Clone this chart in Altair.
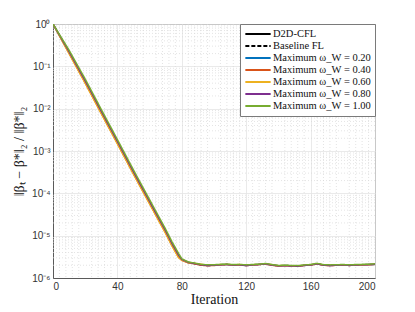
import altair as alt
import pandas as pd

iterations = [0, 10, 20, 30, 40, 50, 60, 70, 74, 78, 80] + list(range(84, 201, 4))

series_names = ["D2D-CFL", "Baseline FL",
                "Maximum ω_W = 0.20", "Maximum ω_W = 0.40", "Maximum ω_W = 0.60",
                "Maximum ω_W = 0.80", "Maximum ω_W = 1.00"]
series_colors = ["#000000", "#000000", "#0072BD", "#D95319", "#EDB120", "#7E2F8E", "#77AC30"]

decay_020 = [1.0, 0.215, 0.0436, 8.32e-3, 1.62e-3, 3.09e-4, 6.16e-5, 1.23e-5, 6.16e-6, 3.31e-6, 2.70e-6]
decay_040 = [1.0, 0.204, 0.0407, 7.76e-3, 1.51e-3, 2.88e-4, 5.75e-5, 1.15e-5, 5.75e-6, 3.09e-6, 2.62e-6]
decay_060 = [1.0, 0.1995, 0.0398, 7.59e-3, 1.48e-3, 2.82e-4, 5.62e-5, 1.12e-5, 5.62e-6, 3.02e-6, 2.63e-6]
decay_080 = [1.0, 0.222, 0.0457, 8.71e-3, 1.70e-3, 3.24e-4, 6.45e-5, 1.29e-5, 6.45e-6, 3.47e-6, 2.75e-6]
decay_100 = [1.0, 0.240, 0.0501, 9.55e-3, 1.86e-3, 3.55e-4, 7.08e-5, 1.41e-5, 7.08e-6, 3.80e-6, 2.85e-6]

floor_020 = [2.32e-6, 2.18e-6, 2.05e-6, 1.98e-6, 2.00e-6, 2.06e-6, 2.10e-6, 2.00e-6, 2.06e-6, 1.98e-6,
             2.05e-6, 2.10e-6, 2.16e-6, 2.03e-6, 1.94e-6, 1.97e-6, 1.95e-6, 1.92e-6, 2.00e-6, 2.04e-6,
             2.16e-6, 2.02e-6, 1.98e-6, 2.02e-6, 2.04e-6, 2.00e-6, 2.04e-6, 2.06e-6, 2.08e-6, 2.10e-6]
floor_040 = [2.28e-6, 2.15e-6, 2.00e-6, 1.95e-6, 1.98e-6, 2.04e-6, 2.08e-6, 2.02e-6, 2.04e-6, 1.97e-6,
             2.03e-6, 2.08e-6, 2.14e-6, 2.00e-6, 1.92e-6, 1.95e-6, 1.93e-6, 1.90e-6, 1.98e-6, 2.02e-6,
             2.15e-6, 2.00e-6, 1.96e-6, 2.00e-6, 2.02e-6, 1.98e-6, 2.02e-6, 2.04e-6, 2.06e-6, 2.10e-6]
floor_060 = [2.30e-6, 2.22e-6, 2.12e-6, 2.00e-6, 2.02e-6, 2.08e-6, 2.10e-6, 2.05e-6, 2.08e-6, 2.00e-6,
             2.06e-6, 2.10e-6, 2.16e-6, 2.05e-6, 1.95e-6, 1.98e-6, 1.94e-6, 1.92e-6, 2.00e-6, 2.05e-6,
             2.18e-6, 2.04e-6, 2.00e-6, 2.02e-6, 2.05e-6, 2.00e-6, 2.05e-6, 2.06e-6, 2.08e-6, 2.12e-6]
floor_080 = [2.34e-6, 2.20e-6, 2.05e-6, 1.97e-6, 2.00e-6, 2.05e-6, 2.08e-6, 2.03e-6, 2.05e-6, 1.96e-6,
             2.04e-6, 2.08e-6, 2.15e-6, 2.02e-6, 1.93e-6, 1.96e-6, 1.92e-6, 1.90e-6, 1.98e-6, 2.03e-6,
             2.16e-6, 2.01e-6, 1.97e-6, 2.00e-6, 2.03e-6, 1.98e-6, 2.03e-6, 2.05e-6, 2.07e-6, 2.11e-6]
floor_100 = [2.40e-6, 2.25e-6, 2.10e-6, 2.05e-6, 2.06e-6, 2.10e-6, 2.13e-6, 2.08e-6, 2.10e-6, 2.04e-6,
             2.09e-6, 2.12e-6, 2.20e-6, 2.08e-6, 1.98e-6, 2.01e-6, 1.98e-6, 1.96e-6, 2.03e-6, 2.08e-6,
             2.22e-6, 2.07e-6, 2.04e-6, 2.06e-6, 2.08e-6, 2.05e-6, 2.08e-6, 2.10e-6, 2.12e-6, 2.16e-6]

y_major = [1e-6, 1e-5, 1e-4, 1e-3, 1e-2, 1e-1, 1]
y_minor = [k * 10.0 ** e for e in range(-6, 0) for k in range(2, 10)]
x_major = [0, 20, 40, 60, 80, 100, 120, 140, 160, 180, 200]
x_minor = [v for v in range(4, 200, 4) if v % 20 != 0]

series_values = [decay_020 + floor_020, decay_040 + floor_040, decay_060 + floor_060,
                 decay_080 + floor_080, decay_100 + floor_100]

rows = []
for name, vals in zip(series_names[2:], series_values):
    for it, v in zip(iterations, vals):
        rows.append({"Iteration": it, "err": v, "series": name})
df = pd.DataFrame(rows)

xscale = alt.Scale(domain=[0, 200], nice=False)
yscale = alt.Scale(type="log", domain=[1e-6, 1], nice=False)

minor_y = alt.Chart(pd.DataFrame({"v": y_minor})).mark_rule(
    color="#d8d8d8", strokeWidth=0.7, strokeDash=[1, 2]
).encode(y=alt.Y("v:Q", scale=yscale))

minor_x = alt.Chart(pd.DataFrame({"v": x_minor})).mark_rule(
    color="#d8d8d8", strokeWidth=0.7, strokeDash=[1, 2]
).encode(x=alt.X("v:Q", scale=xscale))

label_expr = ("['10⁰','10⁻¹','10⁻²','10⁻³','10⁻⁴','10⁻⁵','10⁻⁶']"
              "[-round(log(datum.value)/LN10)]")

legend_cfg = dict(title=None, orient="top-right", offset=0, clipHeight=12)

lines = alt.Chart(df).mark_line(strokeWidth=1.5, clip=True).encode(
    x=alt.X("Iteration:Q", scale=xscale,
            axis=alt.Axis(values=x_major, title="Iteration", grid=True,
                          titleFont="Liberation Serif", titleFontSize=14,
                          titleFontWeight="normal", titlePadding=1)),
    y=alt.Y("err:Q", scale=yscale,
            axis=alt.Axis(values=y_major, labelExpr=label_expr, grid=True,
                          title="‖βₜ − β*‖₂ / ‖β*‖₂",
                          titleFont="Liberation Serif", titleFontSize=14,
                          titleFontWeight="normal", titlePadding=5)),
    color=alt.Color("series:N",
                    scale=alt.Scale(domain=series_names, range=series_colors),
                    legend=alt.Legend(**legend_cfg)),
    strokeDash=alt.StrokeDash("series:N",
                              scale=alt.Scale(domain=series_names,
                                              range=[[1, 0], [4, 2], [1, 0], [1, 0],
                                                     [1, 0], [1, 0], [1, 0]]),
                              legend=alt.Legend(**legend_cfg)),
)

chart = alt.layer(minor_y, minor_x, lines).properties(
    width=322, height=254,
    autosize=alt.AutoSizeParams(type="none"),
    padding={"left": 45, "top": 16, "right": 32, "bottom": 30},
).configure_view(
    stroke="#5a5a5a", strokeWidth=1
).configure_axis(
    domainColor="#5a5a5a", gridColor="#e4e4e4", gridWidth=0.8,
    ticks=False, labelFont="Liberation Sans", labelFontSize=10,
    labelColor="#333333", titleColor="#111111", labelPadding=3,
).configure_legend(
    labelFont="Liberation Serif", labelFontSize=10.5, labelColor="#111111",
    symbolType="stroke", symbolSize=640, symbolStrokeWidth=2,
    strokeColor="#7a7a7a", fillColor="white", padding=4, rowPadding=0,
    labelLimit=200, symbolOffset=0, labelOffset=1,
)

chart.save("out.html", embed_options={"renderer": "svg", "actions": False})
